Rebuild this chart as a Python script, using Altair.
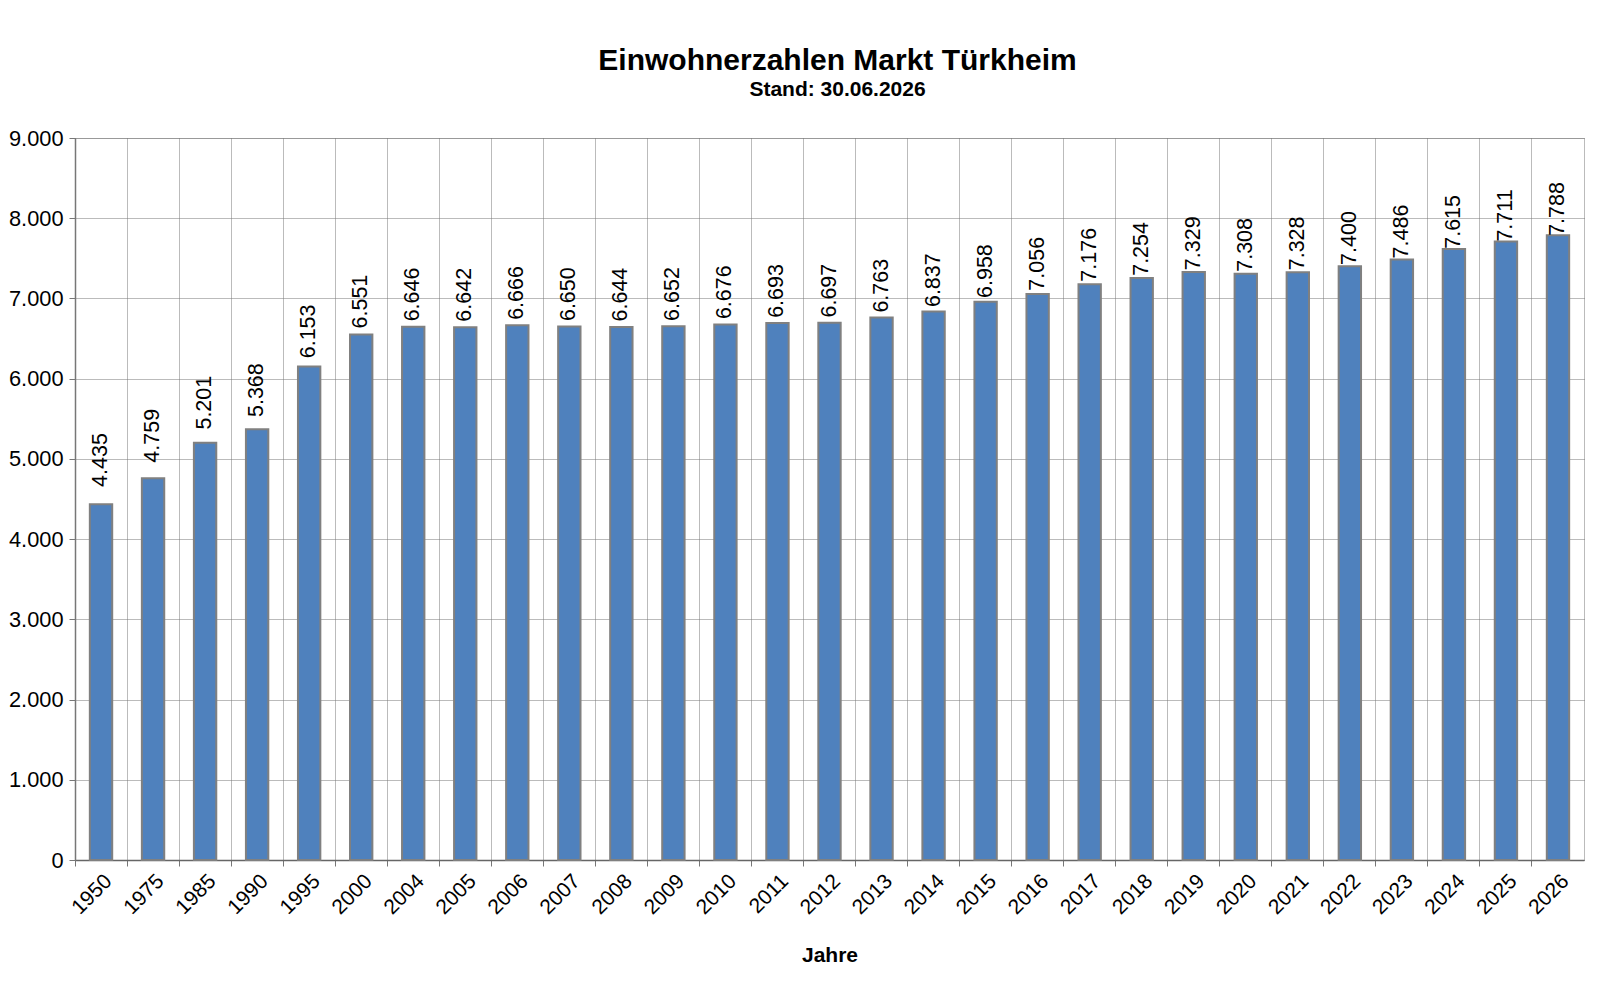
import altair as alt
import pandas as pd

years = ["1950", "1975", "1985", "1990", "1995", "2000", "2004", "2005", "2006", "2007",
         "2008", "2009", "2010", "2011", "2012", "2013", "2014", "2015", "2016", "2017",
         "2018", "2019", "2020", "2021", "2022", "2023", "2024", "2025", "2026"]
values = [4435, 4759, 5201, 5368, 6153, 6551, 6646, 6642, 6666, 6650,
          6644, 6652, 6676, 6693, 6697, 6763, 6837, 6958, 7056, 7176,
          7254, 7329, 7308, 7328, 7400, 7486, 7615, 7711, 7788]

df = pd.DataFrame({"Jahr": years, "Einwohner": values})

FONT = "Liberation Sans"
de_fmt = "replace(format(datum.value, ',d'), ',', '.')"

x_enc = alt.X("Jahr:N", sort=years,
              scale=alt.Scale(paddingInner=0, paddingOuter=0),
              axis=alt.Axis(title="Jahre", labelAngle=-45, labelFontSize=21,
                            labelFont=FONT, labelColor="#000", titleFont=FONT,
                            titleFontSize=21, titleFontWeight="bold", titleColor="#000",
                            titlePadding=27, bandPosition=0, grid=True,
                            gridColor="#777", gridDash=[1, 1], gridWidth=1,
                            tickColor="#777", tickSize=6, domainColor="#666",
                            domainWidth=1.5, labelPadding=4))

bars = alt.Chart(df).mark_bar(
    width=alt.RelativeBandSize(0.43), color="#4F81BD", stroke="#808080", strokeWidth=2
).encode(
    x=x_enc,
    y=alt.Y("Einwohner:Q", scale=alt.Scale(domain=[0, 9000]),
            axis=alt.Axis(title=None, values=list(range(0, 9001, 1000)),
                          labelExpr=de_fmt, labelFont=FONT, labelFontSize=21.8,
                          labelColor="#000", gridColor="#777", gridDash=[1, 1],
                          gridWidth=1, tickColor="#777", tickSize=6,
                          domainColor="#777", domainWidth=1.5, labelPadding=6)),
)

labels = alt.Chart(df).transform_calculate(
    lab="replace(format(datum.Einwohner, ',d'), ',', '.')",
    ypos="datum.Einwohner * 0.9334 + 511",
).mark_text(
    angle=270, align="left", baseline="middle", font=FONT, fontSize=21.5, color="#000"
).encode(
    x=alt.X("Jahr:N", sort=years),
    y=alt.Y("ypos:Q"),
    text="lab:N",
)

chart = alt.layer(bars, labels).properties(
    width=1581, height=963,
    autosize=alt.AutoSizeParams(type="fit", contains="padding"),
    padding={"left": 0, "top": 38, "right": 5, "bottom": 5},
    title=alt.TitleParams(
        text="Einwohnerzahlen Markt Türkheim",
        subtitle="Stand: 30.06.2026",
        font=FONT, fontSize=30, fontWeight="bold", color="#000",
        subtitleFont=FONT, subtitleFontSize=21, subtitleFontWeight="bold",
        subtitleColor="#000", subtitlePadding=3, anchor="middle", offset=28, dx=8,
    ),
).configure_view(stroke="#777", strokeDash=[1, 1])

chart.save("out.html", embed_options={"renderer": "svg", "actions": False})
